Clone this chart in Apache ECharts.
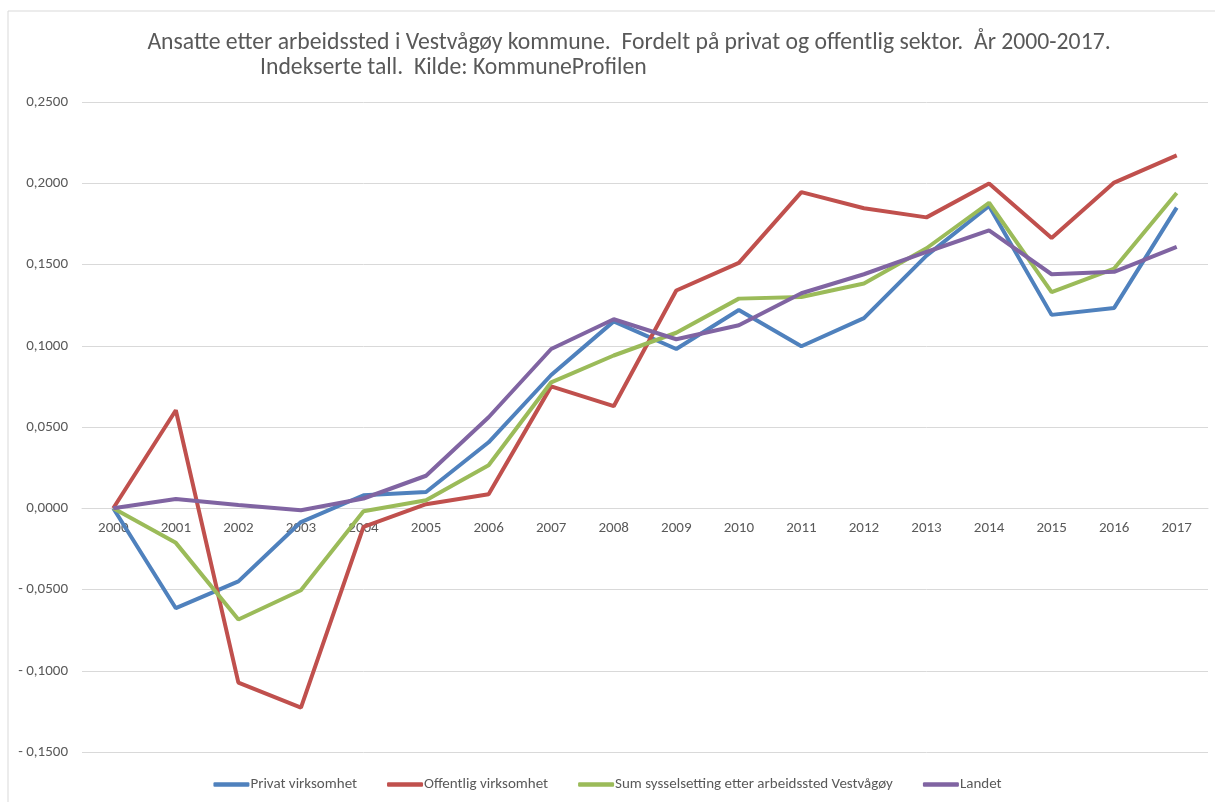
<!DOCTYPE html>
<html>
<head>
<meta charset="utf-8">
<script src="https://cdn.jsdelivr.net/npm/echarts@6/dist/echarts.min.js"></script>
<style>
	html, body { margin: 0; padding: 0; background: #fff; }
	#chart { width: 1215px; height: 802px; }
</style>
</head>
<body>
<div id="chart"></div>
<script>
var years = ['2000','2001','2002','2003','2004','2005','2006','2007','2008','2009','2010','2011','2012','2013','2014','2015','2016','2017'];
var privat = [0, -0.0615, -0.0450, -0.0085, 0.0080, 0.0100, 0.0406, 0.0820, 0.1150, 0.0980, 0.1220, 0.0997, 0.1170, 0.1555, 0.1860, 0.1190, 0.1233, 0.1850];
var offentlig = [0, 0.0603, -0.1073, -0.1227, -0.0115, 0.0025, 0.0086, 0.0750, 0.0628, 0.1340, 0.1510, 0.1945, 0.1846, 0.1790, 0.1998, 0.1663, 0.2004, 0.2172];
var sum = [0, -0.0213, -0.0685, -0.0505, -0.0018, 0.0049, 0.0265, 0.0775, 0.0940, 0.1080, 0.1290, 0.1300, 0.1383, 0.1600, 0.1880, 0.1330, 0.1475, 0.1940];
var landet = [0, 0.0057, 0.0020, -0.0012, 0.0060, 0.0200, 0.0560, 0.0980, 0.1163, 0.1040, 0.1126, 0.1323, 0.1440, 0.1577, 0.1710, 0.1440, 0.1455, 0.1608];
var names = ['Privat virksomhet', 'Offentlig virksomhet', 'Sum sysselsetting etter arbeidssted Vestvågøy', 'Landet'];

var font = "Carlito, 'Liberation Sans', sans-serif";

function fmt(v){
	var s = Math.abs(v).toFixed(4).replace('.', ',');
	return v < -1e-9 ? '- ' + s : s;
}

function line(name, data, color){
	return {
		name: name,
		type: 'line',
		data: data,
		symbol: 'none',
		lineStyle: { width: 4, color: color },
		itemStyle: { color: color }
	};
}

var chart = echarts.init(document.getElementById('chart'));
var option = {
	textStyle: { fontFamily: font },
	graphic: [{
		type: 'rect',
		shape: { x: 8, y: 11, width: 1220, height: 800 },
		style: { fill: 'none', stroke: '#d9d9d9', lineWidth: 1 },
		silent: true
	}],
	title: [{
		text: 'Ansatte etter arbeidssted i Vestvågøy kommune.  Fordelt på privat og offentlig sektor.  År 2000-2017.',
		left: 624,
		textAlign: 'center',
		top: 26,
		textStyle: { fontFamily: font, fontSize: 23.7, fontWeight: 'normal', color: '#595959' }
	}, {
		text: 'Indekserte tall.  Kilde: KommuneProfilen',
		left: 255,
		top: 51,
		textStyle: { fontFamily: font, fontSize: 23.7, fontWeight: 'normal', color: '#595959' }
	}],
	legend: {
		top: 772,
		left: 'center',
		itemGap: 30,
		itemWidth: 36,
		itemHeight: 4.5,
		icon: 'roundRect',
		data: names,
		textStyle: { fontFamily: font, fontSize: 15, color: '#595959', padding: [0, 0, 0, -4] }
	},
	grid: { left: 82, right: 7, top: 102, bottom: 50 },
	xAxis: {
		type: 'category',
		data: years,
		boundaryGap: true,
		offset: -243.75,
		axisLine: { onZero: false, lineStyle: { color: '#d9d9d9', width: 1 } },
		axisTick: { show: false },
		axisLabel: { color: '#595959', fontSize: 15, margin: 12, fontFamily: font }
	},
	yAxis: {
		type: 'value',
		min: -0.15,
		max: 0.25,
		interval: 0.05,
		axisLine: { show: false },
		axisTick: { show: false },
		splitLine: { lineStyle: { color: '#d9d9d9', width: 1 } },
		axisLabel: { color: '#595959', fontSize: 15, margin: 14, fontFamily: font, formatter: fmt }
	},
	series: [
		line(names[0], privat, '#4F81BD'),
		line(names[1], offentlig, '#C0504D'),
		line(names[2], sum, '#9BBB59'),
		line(names[3], landet, '#8064A2')
	]
};
chart.setOption(option);
</script>
</body>
</html>
